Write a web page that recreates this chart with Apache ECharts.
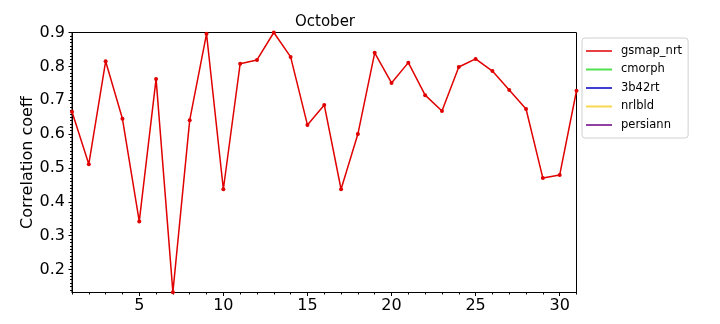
<!DOCTYPE html>
<html>
<head>
<meta charset="utf-8">
<script src="https://cdn.jsdelivr.net/npm/echarts@6/dist/echarts.min.js"></script>
<style>html,body{margin:0;padding:0;background:#fff}#c{width:720px;height:324px}</style>
</head>
<body>
<div id="c"></div>
<script>
const days = [1,2,3,4,5,6,7,8,9,10,11,12,13,14,15,16,17,18,19,20,21,22,23,24,25,26,27,28,29,30,31];
const gsmapNrt = [0.666,0.511,0.815,0.645,0.342,0.763,0.133,0.641,0.896,0.437,0.808,0.819,0.900,0.828,0.627,0.686,0.437,0.600,0.840,0.751,0.811,0.715,0.668,0.798,0.822,0.786,0.730,0.674,0.470,0.479,0.728];
const seriesNames = ['gsmap_nrt','cmorph','3b42rt','nrlbld','persiann'];
const legendColors = ['#e84040','#50e050','#4040d0','#f8d850','#9040a0'];
const xTickLabels = [5,10,15,20,25,30];
const yTickLabels = [0.2,0.3,0.4,0.5,0.6,0.7,0.8,0.9];
const yMin = 0.132, yMax = 0.9;

const xMinor = []; for (let d = 1; d <= 31; d++) xMinor.push(d);
const yMinor = []; for (let k = 14; k <= 90; k++) yMinor.push(k / 100);

const font = 'DejaVu Sans';
const chart = echarts.init(document.getElementById('c'));
const series = [{
  name: seriesNames[0], type: 'line', data: days.map((d, i) => [d, gsmapNrt[i]]),
  lineStyle: {color: '#e00000', width: 1.5}, itemStyle: {color: '#e00000'},
  symbol: 'circle', symbolSize: 4, showSymbol: true, animation: false, clip: true
}];
for (let i = 1; i < seriesNames.length; i++) {
  series.push({name: seriesNames[i], type: 'line', data: [], itemStyle: {color: legendColors[i]}, lineStyle: {color: legendColors[i]}});
}
chart.setOption({
  animation: false,
  title: {text: 'October', left: 290, top: 10,
    textStyle: {fontFamily: font, fontSize: 15, fontWeight: 'normal', color: '#000'}},
  grid: [{left: 72, top: 32.5, right: 143.5, bottom: 31.5, show: true, borderColor: '#000', borderWidth: 1}],
  legend: {
    orient: 'vertical', left: 582, top: 38, itemGap: 6.5, itemWidth: 26, itemHeight: 13, padding: [7, 6, 7, 4],
    borderColor: '#d0d0d0', borderWidth: 1, borderRadius: 3, backgroundColor: '#fff',
    data: seriesNames.map((n, i) => ({name: n, icon: 'path://M0,5 L26,5 L26,7 L0,7 Z', itemStyle: {color: legendColors[i]}})),
    textStyle: {fontFamily: font, fontSize: 11.5, color: '#000', padding: [0, 0, 0, 4]}
  },
  xAxis: [{
    type: 'value', min: 1, max: 31, gridIndex: 0, position: 'bottom',
    axisLine: {lineStyle: {color: '#000', width: 1}},
    axisTick: {show: true, customValues: xTickLabels, length: 3.5, lineStyle: {color: '#000'}},
    axisLabel: {customValues: xTickLabels, fontFamily: font, fontSize: 16, color: '#000', margin: 5},
    splitLine: {show: false}
  }, {
    type: 'value', min: 1, max: 31, gridIndex: 0, position: 'bottom',
    axisLine: {show: false},
    axisTick: {show: true, customValues: xMinor, length: 2, lineStyle: {color: '#000'}},
    axisLabel: {show: false}, splitLine: {show: false}
  }],
  yAxis: [{
    type: 'value', min: yMin, max: yMax, gridIndex: 0, position: 'left',
    name: 'Correlation coeff', nameLocation: 'middle', nameGap: 36, nameRotate: 90, nameMoveOverlap: false,
    nameTextStyle: {fontFamily: font, fontSize: 16, color: '#000'},
    axisLine: {show: true, lineStyle: {color: '#000', width: 1}},
    axisTick: {show: true, customValues: yTickLabels, length: 3.5, lineStyle: {color: '#000'}},
    axisLabel: {customValues: yTickLabels, fontFamily: font, fontSize: 16, color: '#000', margin: 7,
      formatter: v => v.toFixed(1)},
    splitLine: {show: false}
  }, {
    type: 'value', min: yMin, max: yMax, gridIndex: 0, position: 'left',
    axisLine: {show: false},
    axisTick: {show: true, customValues: yMinor, length: 2, lineStyle: {color: '#000'}},
    axisLabel: {show: false}, splitLine: {show: false}
  }],
  series: series
});
</script>
</body>
</html>
